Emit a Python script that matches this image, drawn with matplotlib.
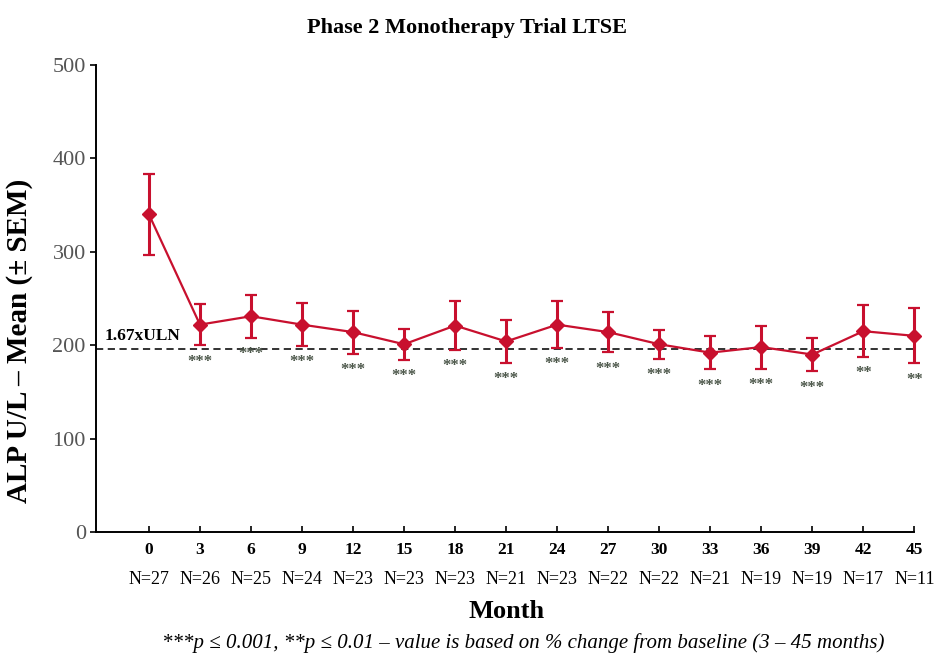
import matplotlib.pyplot as plt

plt.rcParams['font.family'] = ['Liberation Serif', 'DejaVu Serif']

months = [0, 3, 6, 9, 12, 15, 18, 21, 24, 27, 30, 33, 36, 39, 42, 45]
n_labels = ['N=27', 'N=26', 'N=25', 'N=24', 'N=23', 'N=23', 'N=23', 'N=21',
            'N=23', 'N=22', 'N=22', 'N=21', 'N=19', 'N=19', 'N=17', 'N=11']
alp_mean = [340, 222, 231, 222, 214, 201, 221, 204, 222, 214, 201, 192, 198, 190, 215, 210]
alp_sem = [43, 22, 23, 23, 23, 16.5, 26, 23, 25, 21.5, 15.5, 18, 23, 18, 27.5, 29.5]
signif = ['', '***', '***', '***', '***', '***', '***', '***', '***', '***',
          '***', '***', '***', '***', '**', '**']
uln_line = 196

red = '#c8102e'

fig = plt.figure(figsize=(9.34, 6.56), dpi=100)
ax = fig.add_axes([0.103, 0.189, 0.876, 0.712])

ax.axhline(uln_line, color='#222222', linestyle=(0, (4, 2.5)), linewidth=1.3, zorder=1)
ax.text(-2.6, uln_line + 5, '1.67xULN', fontsize=12.5, fontweight='bold', va='bottom')

_, caps, bars = ax.errorbar(months, alp_mean, yerr=alp_sem, color=red, linewidth=1.6,
                            marker='D', markersize=7, elinewidth=2.2, capsize=4,
                            capthick=1.6, zorder=3, clip_on=False)
for c in caps:
    c.set_clip_on(False)
for b in bars:
    b.set_clip_on(False)

# significance stars just under the lower error bar
for m, v, s, lab in zip(months, alp_mean, alp_sem, signif):
    if lab:
        ax.annotate(lab, (m, v - s), xytext=(0, -6), textcoords='offset points',
                    ha='center', va='top', fontsize=12, color='#4a5548', fontweight='bold')

ax.set_xlim(-3.1, 45)
ax.set_ylim(0, 500)
ax.set_yticks([0, 100, 200, 300, 400, 500])
ax.set_xticks(months)
ax.set_xticklabels([str(m) for m in months], fontweight='bold', fontsize=12.5)
ax.tick_params(axis='x', direction='in', length=4, width=1.2, pad=7)
ax.tick_params(axis='y', direction='out', length=4, width=1.2, labelsize=16, labelcolor='#555555')

ax.spines['top'].set_visible(False)
ax.spines['right'].set_visible(False)
ax.spines['left'].set_linewidth(1.4)
ax.spines['bottom'].set_linewidth(1.4)

for m, n in zip(months, n_labels):
    ax.text(m, -42, n, ha='center', va='top', fontsize=13, clip_on=False)

ax.set_ylabel('ALP U/L \u2013 Mean (\u00b1 SEM)', fontsize=21, fontweight='bold')
ax.yaxis.set_label_coords(-0.077, 0.41)

fig.text(0.5, 0.958, 'Phase 2 Monotherapy Trial LTSE', ha='center', va='center',
         fontsize=16, fontweight='bold')
fig.text(0.542, 0.068, 'Month', ha='center', va='center', fontsize=19, fontweight='bold')
fig.text(0.56, 0.004, '***p \u2264 0.001, **p \u2264 0.01 \u2013 value is based on % change from baseline (3 \u2013 45 months)',
         ha='center', va='bottom', fontsize=15, style='italic')

fig.savefig('out.png', dpi=100)
